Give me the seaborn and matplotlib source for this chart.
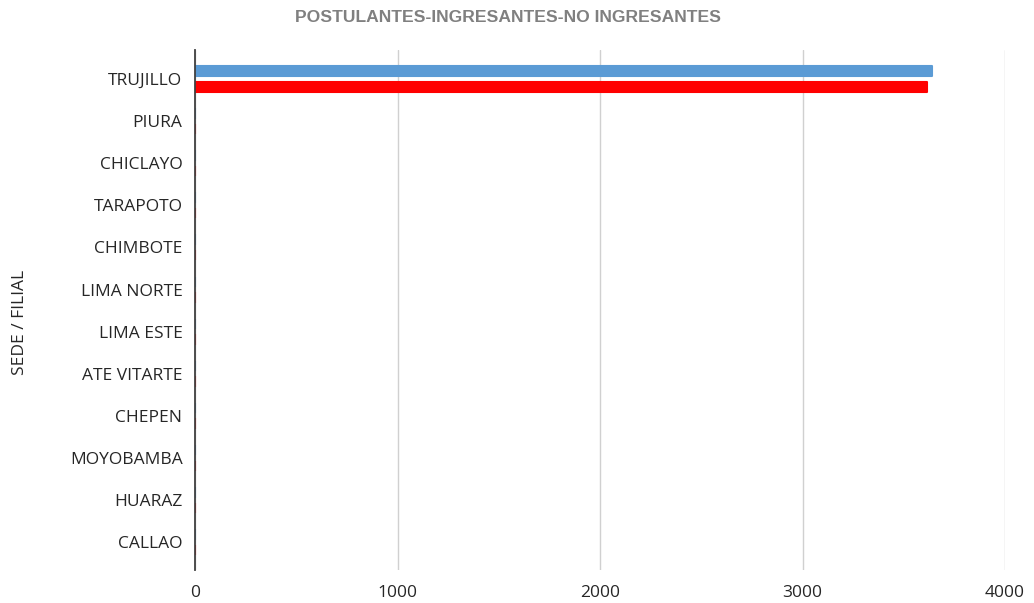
import pandas as pd
import numpy as np
import matplotlib
matplotlib.use("Agg")
import matplotlib.pyplot as plt
import seaborn as sns

# Données
sedes = ["TRUJILLO", "PIURA", "CHICLAYO", "TARAPOTO", "CHIMBOTE", "LIMA NORTE",
         "LIMA ESTE", "ATE VITARTE", "CHEPEN", "MOYOBAMBA", "HUARAZ", "CALLAO"]
postulantes = [3640, 0, 0, 0, 0, 0, 0, 0, 0, 0, 0, 0]
ingresantes = [3614, 0, 0, 0, 0, 0, 0, 0, 0, 0, 0, 0]
series = ["POSTULANTES", "INGRESANTES"]
colores = ["#5B9BD5", "#FF0000"]

df = pd.DataFrame({
    "sede": sedes * 2,
    "valor": postulantes + ingresantes,
    "serie": [series[0]] * len(sedes) + [series[1]] * len(sedes),
})

sns.set_style("white")
plt.rcParams["font.family"] = ["Open Sans", "DejaVu Sans"]

fig = plt.figure(figsize=(10.34, 6.03), dpi=100)
ax = fig.add_axes([195 / 1034, 1 - 570 / 603, (1005 - 195) / 1034, 520 / 603])

sns.barplot(data=df, x="valor", y="sede", hue="serie", palette=colores,
            saturation=1, orient="h", width=0.74, gap=0.33, legend=False, ax=ax)

# extrémités légèrement arrondies
for p in ax.patches:
    p.set_edgecolor(p.get_facecolor())
    p.set_linewidth(1.5)
    p.set_joinstyle("round")

ax.set_xlim(0, 4000)
ax.set_xticks([0, 1000, 2000, 3000, 4000])
ax.set_ylim(11.66, -0.69)
ax.xaxis.grid(True, color="#D0D0D0", linewidth=1)
ax.set_axisbelow(True)
ax.tick_params(axis="both", length=0, labelsize=12.5, colors="#262626")
ax.tick_params(axis="x", pad=11)
ax.tick_params(axis="y", pad=9)
for s in ["top", "right", "bottom"]:
    ax.spines[s].set_visible(False)
ax.spines["left"].set_color("#404040")
ax.spines["left"].set_linewidth(1.3)
ax.set_xlabel("")
ax.set_ylabel("")

fig.text(20 / 1034, 1 - 322 / 603, "SEDE / FILIAL", rotation=90, ha="center",
         va="center", fontsize=12.5, color="#262626")
fig.text(508 / 1034, 1 - 18 / 603, "POSTULANTES-INGRESANTES-NO INGRESANTES",
         ha="center", va="center", fontsize=12.6, fontweight="bold",
         color="#808080", family=["Liberation Sans", "DejaVu Sans"])

fig.savefig("out.png", dpi=100)
